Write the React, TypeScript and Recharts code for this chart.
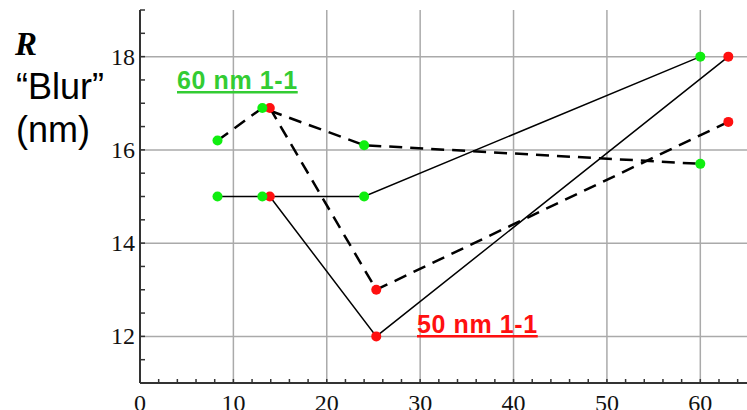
import { ComposedChart, Line, Scatter, XAxis, YAxis, ReferenceLine } from 'recharts'

// 60 nm sample (green points)
const greenX = [8.3, 13.1, 24, 60]
const greenSolid = [15, 15, 15, 18]
const greenDashed = [16.2, 16.9, 16.1, 15.7]

// 50 nm sample (red points)
const redX = [13.9, 25.3, 63]
const redSolid = [15, 12, 18]
const redDashed = [16.9, 13, 16.6]

const xTicks = [0, 2, 4, 6, 8, 10, 12, 14, 16, 18, 20, 22, 24, 26, 28, 30, 32, 34, 36, 38, 40, 42, 44, 46, 48, 50, 52, 54, 56, 58, 60, 62, 64]
const xGrid = [10, 20, 30, 40, 50, 60]
const yTicks = [11, 11.5, 12, 12.5, 13, 13.5, 14, 14.5, 15, 15.5, 16, 16.5, 17, 17.5, 18, 18.5, 19]
const yGrid = [12, 14, 16, 18]

const toPoints = (xs: number[], ys: number[]) => xs.map((x, i) => ({ x, y: ys[i] }))

const SERIF = "'Liberation Serif', 'Times New Roman', serif"
const SANS = "'Liberation Sans', Arial, sans-serif"
const AXIS = '#333'

const XTick = ({ x, y, payload }: any) => {
  const major = payload.value % 10 === 0
  return (
    <g>
      <line x1={x} x2={x} y1={y} y2={y - 4} stroke={AXIS} strokeWidth={1.5} />
      {major && (
        <text x={x} y={y + 28} textAnchor="middle" fill="#111" stroke="none"
          style={{ fontFamily: SERIF, fontSize: 24 }}>
          {payload.value}
        </text>
      )}
    </g>
  )
}

const YTick = ({ x, y, payload }: any) => {
  const label = payload.value % 2 === 0
  return (
    <g>
      <line x1={x} x2={x + 5} y1={y} y2={y} stroke={AXIS} strokeWidth={1.5} />
      {label && (
        <text x={x - 5} y={y + 8} textAnchor="end" fill="#111" stroke="none"
          style={{ fontFamily: SERIF, fontSize: 24 }}>
          {payload.value}
        </text>
      )}
    </g>
  )
}

const dot = (color: string) => (p: any) => <circle cx={p.cx} cy={p.cy} r={5} fill={color} />

export default function App() {
  return (
    <div style={{ position: 'absolute', left: 0, top: 0, width: 747, height: 410, background: '#fff' }}>
      <ComposedChart width={747} height={410} margin={{ top: 10, right: 0, bottom: 0, left: 0 }}>
        <XAxis
          type="number" dataKey="x" domain={[0, 65]} ticks={xTicks} interval={0} height={27}
          tickSize={0} tickMargin={0} tickLine={false} tick={<XTick />}
          axisLine={{ stroke: AXIS, strokeWidth: 2 }} allowDataOverflow
        />
        <YAxis
          type="number" dataKey="y" domain={[11, 19]} ticks={yTicks} interval={0} width={140}
          tickSize={0} tickMargin={0} tickLine={false} tick={<YTick />}
          axisLine={{ stroke: AXIS, strokeWidth: 2 }} allowDataOverflow
        />
        {xGrid.map(v => <ReferenceLine key={'gx' + v} x={v} stroke="#aaa" strokeWidth={1.5} />)}
        {yGrid.map(v => <ReferenceLine key={'gy' + v} y={v} stroke="#aaa" strokeWidth={1.5} />)}

        <Line data={toPoints(greenX, greenSolid)} dataKey="y" type="linear" stroke="#000" strokeWidth={1.5} dot={false} isAnimationActive={false} />
        <Line data={toPoints(redX, redSolid)} dataKey="y" type="linear" stroke="#000" strokeWidth={1.5} dot={false} isAnimationActive={false} />
        <Line data={toPoints(greenX, greenDashed)} dataKey="y" type="linear" stroke="#000" strokeWidth={2.5} strokeDasharray="13 8" dot={false} isAnimationActive={false} />
        <Line data={toPoints(redX, redDashed)} dataKey="y" type="linear" stroke="#000" strokeWidth={2.5} strokeDasharray="13 8" dot={false} isAnimationActive={false} />

        <Scatter data={toPoints(redX, redSolid)} shape={dot('#ff1010')} isAnimationActive={false} />
        <Scatter data={toPoints(redX, redDashed)} shape={dot('#ff1010')} isAnimationActive={false} />
        <Scatter data={toPoints(greenX, greenSolid)} shape={dot('#10ee10')} isAnimationActive={false} />
        <Scatter data={toPoints(greenX, greenDashed)} shape={dot('#10ee10')} isAnimationActive={false} />
      </ComposedChart>

      <svg width={747} height={410} style={{ position: 'absolute', left: 0, top: 0, pointerEvents: 'none' }}>
        <text x={15} y={55} style={{ fontFamily: SERIF, fontSize: 33, fontWeight: 'bold', fontStyle: 'italic' }}>R</text>
        <text x={16} y={99} style={{ fontFamily: SANS, fontSize: 36 }}>“Blur”</text>
        <text x={16} y={142} style={{ fontFamily: SANS, fontSize: 36 }}>(nm)</text>
        <text x={177} y={89} fill="#33cc33" letterSpacing={0.6}
          style={{ fontFamily: SANS, fontSize: 25, fontWeight: 'bold', textDecoration: 'underline' }}>60 nm 1-1</text>
        <text x={417} y={333} fill="#ff1010" letterSpacing={0.6}
          style={{ fontFamily: SANS, fontSize: 25, fontWeight: 'bold', textDecoration: 'underline' }}>50 nm 1-1</text>
      </svg>
    </div>
  )
}
